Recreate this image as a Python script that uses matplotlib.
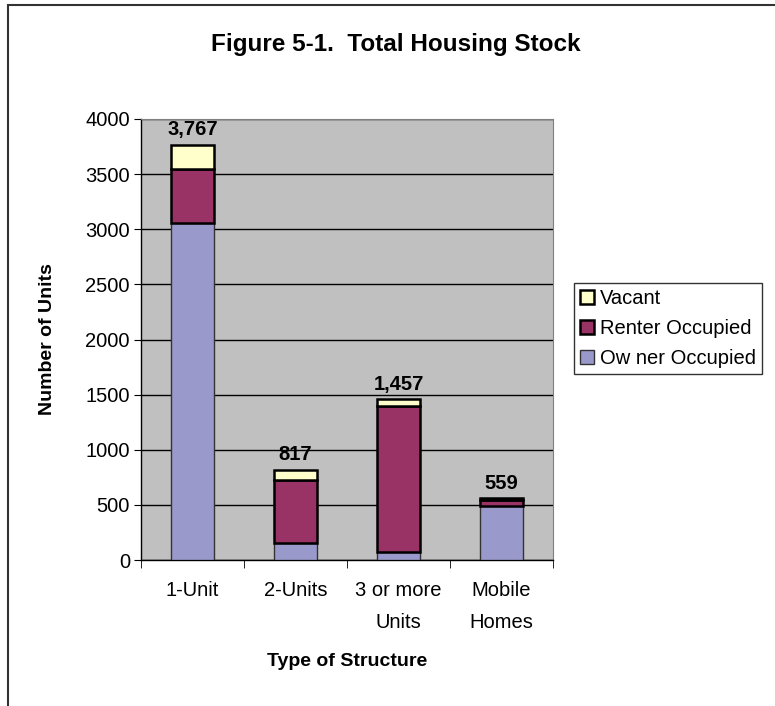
import matplotlib
matplotlib.use("Agg")
import matplotlib.pyplot as plt
from matplotlib.patches import Rectangle
import numpy as np

plt.rcParams['font.family'] = ['Liberation Sans', 'DejaVu Sans']

categories = ["1-Unit", "2-Units", "3 or more\nUnits", "Mobile\nHomes"]
owner = [3054, 157, 70, 490]
renter = [490, 569, 1327, 54]
vacant = [223, 91, 60, 15]
totals = [3767, 817, 1457, 559]
total_labels = ["3,767", "817", "1,457", "559"]

fig = plt.figure(figsize=(7.75, 7.06), dpi=100)
ax = fig.add_axes([141/775, 1-560/706, (553-141)/775, (560-119)/706])
ax.set_facecolor('#C0C0C0')

x = np.arange(len(categories))
w = 0.41
ax.bar(x, owner, w, color='#9999CC', edgecolor='#333333', linewidth=1.0, label='Ow ner Occupied', zorder=3)
ax.bar(x, renter, w, bottom=owner, color='#993366', edgecolor='black', linewidth=1.8, label='Renter Occupied', zorder=3)
bot2 = [o + r for o, r in zip(owner, renter)]
ax.bar(x, vacant, w, bottom=bot2, color='#FFFFCC', edgecolor='black', linewidth=1.8, label='Vacant', zorder=3)

for xi, t, lab in zip(x, totals, total_labels):
    ax.annotate(lab, (xi, t), xytext=(0, 4), textcoords='offset points',
                ha='center', va='bottom', fontsize=14.5, fontweight='bold', zorder=5)

ax.set_ylim(0, 4000)
ax.set_xlim(-0.5, 3.5)
ax.set_yticks(np.arange(0, 4001, 500))
ax.yaxis.grid(True, color='black', linewidth=1.0, zorder=1)
ax.set_axisbelow(True)
ax.tick_params(axis='y', labelsize=14.5, length=5, direction='out', pad=3)
ax.set_xticks(x)
ax.set_xticklabels(categories, fontsize=14.5, linespacing=1.9)
ax.tick_params(axis='x', length=0, pad=15)
ax.set_xticks(np.arange(-0.5, 4, 1), minor=True)
ax.tick_params(axis='x', which='minor', length=6, direction='out')
for s in ['top', 'right']:
    ax.spines[s].set_color('#808080')
for s in ['left', 'bottom']:
    ax.spines[s].set_color('black')
    ax.spines[s].set_linewidth(1.0)

ax.set_ylabel('Number of Units', fontsize=14, fontweight='bold')
ax.yaxis.set_label_coords((56-141)/412, 0.5)
ax.set_xlabel('Type of Structure', fontsize=14, fontweight='bold')
ax.xaxis.set_label_coords(0.5, (560-653)/441)
fig.text(396/775, 1-45/706, 'Figure 5-1.  Total Housing Stock', ha='center', va='center',
         fontsize=17.5, fontweight='bold')

handles, labels = ax.get_legend_handles_labels()
leg = fig.legend(handles[::-1], labels[::-1], loc='upper left',
                 bbox_to_anchor=(574/775, 1-283/706), fontsize=14.5, frameon=True,
                 fancybox=False, edgecolor='black', handlelength=0.7, handleheight=0.7,
                 handletextpad=0.3, borderpad=0.3, labelspacing=0.55, borderaxespad=0)
leg.get_frame().set_linewidth(1.0)

border = Rectangle((8/775, -0.1), 1.2, 1.1 - 5/706, transform=fig.transFigure,
                   fill=False, edgecolor='#333333', linewidth=1.5, clip_on=False)
fig.patches.append(border)

fig.savefig('out.png', dpi=100)
